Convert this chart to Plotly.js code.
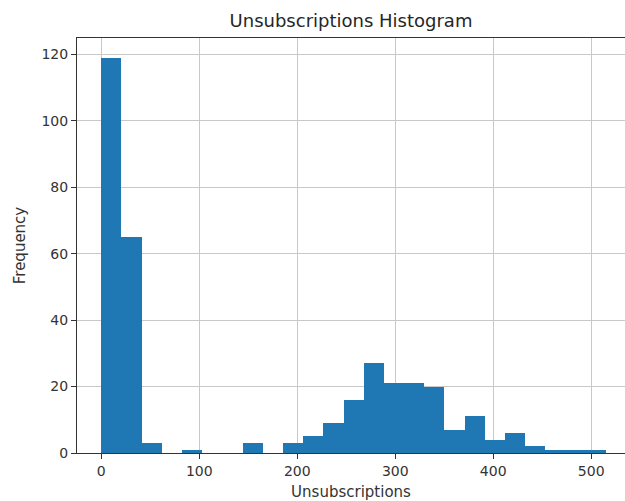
<!DOCTYPE html>
<html>
<head>
<meta charset="utf-8">
<script src="https://cdn.plot.ly/plotly-3.0.1.min.js"></script>
<style>html,body{margin:0;padding:0;background:#fff;}#chart{width:625px;height:501px;}</style>
</head>
<body>
<div id="chart"></div>
<script>
// Histogram bins (25 bins from 0 to ~515)
var binStart = 0;
var binEnd = 515;
var counts = [119, 65, 3, 0, 1, 0, 0, 3, 0, 3, 5, 9, 16, 27, 21, 21, 20, 7, 11, 4, 6, 2, 1, 1, 1];
var xTicks = [0, 100, 200, 300, 400, 500];
var yTicks = [0, 20, 40, 60, 80, 100, 120];

var binWidth = (binEnd - binStart) / counts.length;
var centers = counts.map(function (_, i) { return binStart + binWidth * (i + 0.5); });

var font = 'DejaVu Sans, sans-serif';
var trace = {
  type: 'bar',
  x: centers,
  y: counts,
  width: binWidth,
  marker: { color: '#1f77b4', line: { width: 0 } },
  hoverinfo: 'x+y'
};

var layout = {
  width: 625,
  height: 501,
  margin: { l: 77, r: 0, t: 38, b: 48 },
  paper_bgcolor: '#ffffff',
  plot_bgcolor: '#ffffff',
  showlegend: false,
  bargap: 0,
  title: {
    text: 'Unsubscriptions Histogram',
    font: { family: font, size: 18, color: '#262626' },
    x: 0.5, xref: 'paper', y: 0.958, yref: 'container', yanchor: 'middle'
  },
  xaxis: {
    range: [-24.8, 534.5],
    tickvals: xTicks,
    ticktext: xTicks.map(String),
    showgrid: true, gridcolor: '#c8c8c8', gridwidth: 1,
    zeroline: false,
    showline: true, linecolor: '#333333', linewidth: 1, mirror: true,
    ticks: 'outside', ticklen: 5, tickcolor: '#333333',
    tickfont: { family: font, size: 14, color: '#333333' },
    title: { text: 'Unsubscriptions', font: { family: font, size: 15, color: '#333333' }, standoff: 8 }
  },
  yaxis: {
    range: [0, 124.95],
    tickvals: yTicks,
    ticktext: yTicks.map(String),
    showgrid: true, gridcolor: '#c8c8c8', gridwidth: 1,
    zeroline: false,
    showline: true, linecolor: '#333333', linewidth: 1, mirror: false,
    ticks: 'outside', ticklen: 5, tickcolor: '#333333',
    tickfont: { family: font, size: 14, color: '#333333' },
    title: { text: 'Frequency', font: { family: font, size: 15, color: '#333333' }, standoff: 12 }
  }
};

Plotly.newPlot('chart', [trace], layout, { displayModeBar: false, staticPlot: true });
</script>
</body>
</html>
